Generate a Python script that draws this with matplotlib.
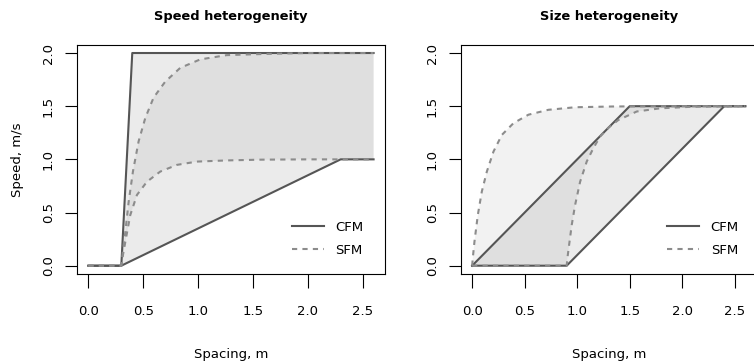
import numpy as np
import matplotlib
matplotlib.use("Agg")
import matplotlib.pyplot as plt

# --- Speed heterogeneity panel ---
speed_cfm_hi_x = [0.0, 0.3, 0.4, 2.6]
speed_cfm_hi_y = [0.0, 0.0, 2.0, 2.0]
speed_cfm_lo_x = [0.0, 0.3, 2.3, 2.6]
speed_cfm_lo_y = [0.0, 0.0, 1.0, 1.0]

speed_sfm_hi_x = [0.0, 0.3, 0.316, 0.337, 0.367, 0.406, 0.458, 0.519, 0.594,
                  0.70, 0.837, 1.02, 1.26, 1.565, 2.0, 2.6]
speed_sfm_hi_y = [0.0, 0.0, 0.15, 0.32, 0.60, 0.885, 1.17, 1.39, 1.58,
                  1.73, 1.86, 1.94, 1.98, 1.99, 2.0, 2.0]
speed_sfm_lo_x = [0.0, 0.3, 0.315, 0.337, 0.382, 0.443, 0.534, 0.655, 0.807,
                  0.989, 1.262, 1.565, 2.0, 2.6]
speed_sfm_lo_y = [0.0, 0.0, 0.10, 0.226, 0.477, 0.666, 0.79, 0.885, 0.948,
                  0.979, 0.99, 0.997, 1.0, 1.0]

# --- Size heterogeneity panel ---
size_cfm_hi_x = [0.0, 1.5, 2.6]
size_cfm_hi_y = [0.0, 1.5, 1.5]
size_cfm_lo_x = [0.0, 0.9, 2.4, 2.6]
size_cfm_lo_y = [0.0, 0.0, 1.5, 1.5]

size_sfm_hi_x = [0.0, 0.008, 0.022, 0.054, 0.092, 0.14, 0.203, 0.283, 0.393,
                 0.536, 0.726, 0.98, 1.33, 1.8, 2.6]
size_sfm_hi_y = [0.0, 0.09, 0.226, 0.477, 0.697, 0.885, 1.073, 1.23, 1.34,
                 1.42, 1.466, 1.49, 1.497, 1.5, 1.5]
size_sfm_lo_x = [0.0, 0.9, 0.908, 0.923, 0.948, 0.98, 1.028, 1.091, 1.154,
                 1.218, 1.30, 1.392, 1.567, 1.789, 2.1, 2.6]
size_sfm_lo_y = [0.0, 0.0, 0.08, 0.195, 0.383, 0.57, 0.79, 0.98, 1.105,
                 1.215, 1.30, 1.37, 1.45, 1.48, 1.495, 1.5]

xticks = [0.0, 0.5, 1.0, 1.5, 2.0, 2.5]
yticks = [0.0, 0.5, 1.0, 1.5, 2.0]

cfm_col = "#555555"
sfm_col = "#8c8c8c"

plt.rcParams["font.family"] = "DejaVu Sans"
plt.rcParams["font.size"] = 9.5

fig = plt.figure(figsize=(7.54, 3.63), dpi=100)
ax1 = fig.add_axes([0.1021, 0.2446, 0.4085, 0.6328])
ax2 = fig.add_axes([0.6117, 0.2446, 0.3912, 0.6328])


def band(ax, hx, hy, lx, ly, alpha):
    px = np.concatenate([hx, lx[::-1]])
    py = np.concatenate([hy, ly[::-1]])
    ax.fill(px, py, color="black", alpha=alpha, lw=0)


def panel(ax, title, cfm, sfm):
    band(ax, *cfm, alpha=0.078)
    band(ax, *sfm, alpha=0.05)
    ax.plot(cfm[0], cfm[1], color=cfm_col, lw=1.5, label="CFM")
    ax.plot(cfm[2], cfm[3], color=cfm_col, lw=1.5)
    ax.plot(sfm[0], sfm[1], color=sfm_col, lw=1.5, ls=(0, (2.5, 2.5)), label="SFM")
    ax.plot(sfm[2], sfm[3], color=sfm_col, lw=1.5, ls=(0, (2.5, 2.5)))

    ax.set_xlim(-0.104, 2.704)
    ax.set_ylim(-0.08, 2.08)
    ax.set_xticks(xticks)
    ax.set_xticklabels(["%.1f" % t for t in xticks])
    ax.set_yticks(yticks)
    ax.set_yticklabels(["%.1f" % t for t in yticks], rotation=90, va="center")
    ax.tick_params(axis="x", length=10, width=0.8, pad=12)
    ax.tick_params(axis="y", length=9, width=0.8, pad=7)
    for s in ax.spines.values():
        s.set_linewidth(0.8)
    ax.set_title(title, fontweight="bold", fontsize=9.4, pad=18)
    ax.set_xlabel("Spacing, m", labelpad=22)
    ax.legend(loc="upper left", bbox_to_anchor=(0.698, 0.232), frameon=False,
              handlelength=2.4, handletextpad=0.9, labelspacing=0.75,
              borderpad=0, borderaxespad=0)


panel(ax1, "Speed heterogeneity",
      (np.array(speed_cfm_hi_x), np.array(speed_cfm_hi_y),
       np.array(speed_cfm_lo_x), np.array(speed_cfm_lo_y)),
      (np.array(speed_sfm_hi_x), np.array(speed_sfm_hi_y),
       np.array(speed_sfm_lo_x), np.array(speed_sfm_lo_y)))
ax1.set_ylabel("Speed, m/s", labelpad=13)

panel(ax2, "Size heterogeneity",
      (np.array(size_cfm_hi_x), np.array(size_cfm_hi_y),
       np.array(size_cfm_lo_x), np.array(size_cfm_lo_y)),
      (np.array(size_sfm_hi_x), np.array(size_sfm_hi_y),
       np.array(size_sfm_lo_x), np.array(size_sfm_lo_y)))

fig.savefig("out.png", dpi=100)
